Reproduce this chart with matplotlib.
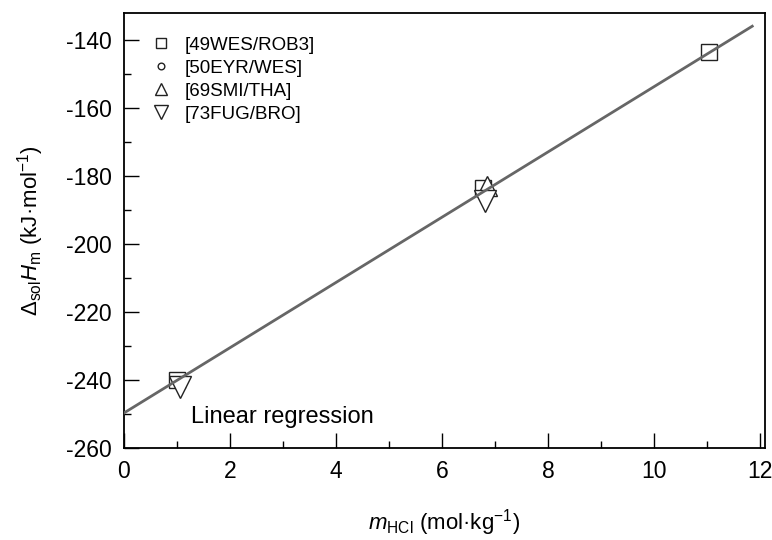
import matplotlib
matplotlib.use('Agg')
import matplotlib.pyplot as plt
from matplotlib.ticker import MultipleLocator

plt.rcParams['font.family'] = ['Liberation Sans', 'DejaVu Sans']
plt.rcParams['mathtext.fontset'] = 'custom'
plt.rcParams['mathtext.rm'] = 'Liberation Sans'
plt.rcParams['mathtext.it'] = 'Liberation Sans:italic'
plt.rcParams['axes.unicode_minus'] = False

# data
wes_rob_x = [1.0, 6.78, 11.03]
wes_rob_y = [-239.9, -183.5, -143.6]
eyr_wes_x = [6.85]
eyr_wes_y = [-184.5]
smi_tha_x = [6.85]
smi_tha_y = [-183.0]
fug_bro_x = [1.05, 6.8]
fug_bro_y = [-242.0, -187.4]

reg_x = [0.0, 11.85]
reg_y = [-249.7, -135.9]

fig = plt.figure(figsize=(7.72, 5.40), dpi=100)
ax = fig.add_axes([0.1606, 0.1704, 0.8303, 0.8056])

ax.plot(reg_x, reg_y, color='#666666', linewidth=2, zorder=5)

mk = dict(linestyle='none', markerfacecolor='white', markeredgecolor='#222222',
          markeredgewidth=1.0)
ax.plot(wes_rob_x, wes_rob_y, marker='s', markersize=12, label='[49WES/ROB3]', zorder=2, **mk)
ax.plot(eyr_wes_x, eyr_wes_y, marker='o', markersize=8, label='[50EYR/WES]', zorder=1, **mk)
ax.plot(smi_tha_x, smi_tha_y, marker='^', markersize=15, label='[69SMI/THA]', zorder=3, **mk)
ax.plot(fug_bro_x, fug_bro_y, marker='v', markersize=16, label='[73FUG/BRO]', zorder=3, **mk)

ax.text(1.26, -251, 'Linear regression', fontsize=17, va='center', ha='left')

ax.set_xlim(0, 12.09)
ax.set_ylim(-260, -132)
ax.xaxis.set_major_locator(MultipleLocator(2))
ax.xaxis.set_minor_locator(MultipleLocator(1))
ax.yaxis.set_major_locator(MultipleLocator(20))
ax.yaxis.set_minor_locator(MultipleLocator(10))
ax.tick_params(which='major', direction='in', length=11, width=1, labelsize=16.5, pad=9)
ax.tick_params(which='minor', direction='in', length=5, width=1)
for s in ax.spines.values():
    s.set_linewidth(1.3)

ax.set_xlabel(r'$m_{\rm HCl}$ (mol·kg$^{-1}$)', fontsize=16, labelpad=17)
ax.set_ylabel(r'$\Delta_{\rm sol}H_{\rm m}$ (kJ·mol$^{-1}$)', fontsize=16, labelpad=14)

ax.legend(loc='upper left', frameon=False, fontsize=13.5, markerscale=0.6,
          handlelength=1.4, handletextpad=0.6, labelspacing=0.32,
          borderaxespad=0.85)

fig.savefig('out.png', dpi=100)
